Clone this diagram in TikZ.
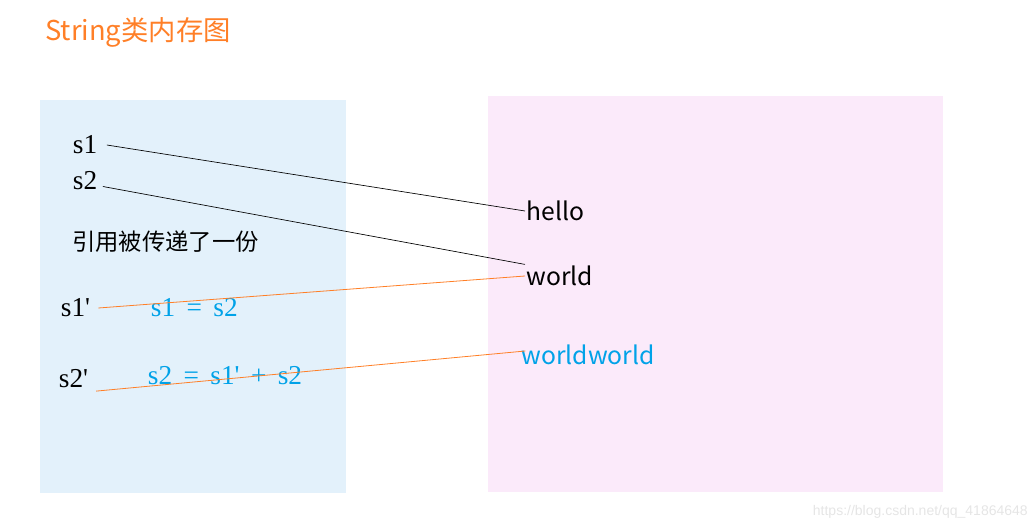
\documentclass[tikz,border=0pt]{standalone}
\usepackage{fontspec}
\setmainfont{Liberation Serif}
\newfontfamily\cjk{Noto Sans CJK SC}
\usetikzlibrary{positioning}
\definecolor{titleorange}{HTML}{FF7F27}
\definecolor{textblue}{HTML}{00A2E8}
\definecolor{stackblue}{HTML}{E3F1FB}
\definecolor{heappink}{HTML}{FBEAFA}
\newcommand{\prm}{{\fontspec{Liberation Serif}\char"27}}
\tikzset{
  Var/.style = {anchor=west, inner sep=2pt, font=\fontsize{20.5}{20.5}\selectfont},
  Str/.style = {anchor=west, inner sep=1pt, font=\cjk\fontsize{18.5}{18.5}\selectfont},
  Ref/.style = {black, line width=0.5pt},
  Copy/.style = {titleorange, line width=0.6pt}
}
\begin{document}
\begin{tikzpicture}[x=0.75pt, y=-0.75pt]
    \useasboundingbox (0,0) rectangle (1036,530);
    % stack and heap areas
    \fill[stackblue] (40,100) rectangle (346,493);
    \fill[heappink] (488,96) rectangle (943,492);

    \node[anchor=west, inner sep=0pt, text=titleorange,
      font=\cjk\fontsize{20.5}{20.5}\selectfont] (title) at (45,32) {String类内存图};

    % variables
    \node[Var] (s1) at (70,145) {s1};
    \node[Var] (s2) at (70,181) {s2};
    \node[anchor=west, inner sep=0pt, font=\cjk\fontsize{17.5}{17.5}\selectfont] (note) at (72,242) {引用被传递了一份};
    \node[Var] (s1p) at (58,308) {s1\prm};
    \node[Var] (s2p) at (56,379) {s2\prm};
    \node[Var, text=textblue] (eq1) at (148,308) {s1 \,=\, s2};
    \node[Var, text=textblue] (eq2) at (145,376) {s2 \,=\, s1\prm{} \,+\, s2};

    % strings
    \node[Str] (hello) at (525,211) {hello};
    \node[Str] (world) at (525,276) {world};
    \node[Str, text=textblue] (ww) at (520,355) {worldworld};

    \draw[Ref] ([xshift=5pt]s1.east) -- (hello.west);
    \draw[Ref] ([xshift=2pt]s2.-20) -- (world.north west);
    \draw[Copy] ([xshift=4pt]s1p.east) -- (world.west);
    \draw[Copy] ([xshift=4pt]s2p.-35) -- ([xshift=4pt, yshift=3pt]ww.west);

    \node[anchor=east, inner sep=0pt, text=black!10,
      font=\fontspec{Liberation Sans}\fontsize{10.5}{10.5}\selectfont] (mark) at (1028,512) {https://blog.csdn.net/qq\_41864648};
\end{tikzpicture}
\end{document}
